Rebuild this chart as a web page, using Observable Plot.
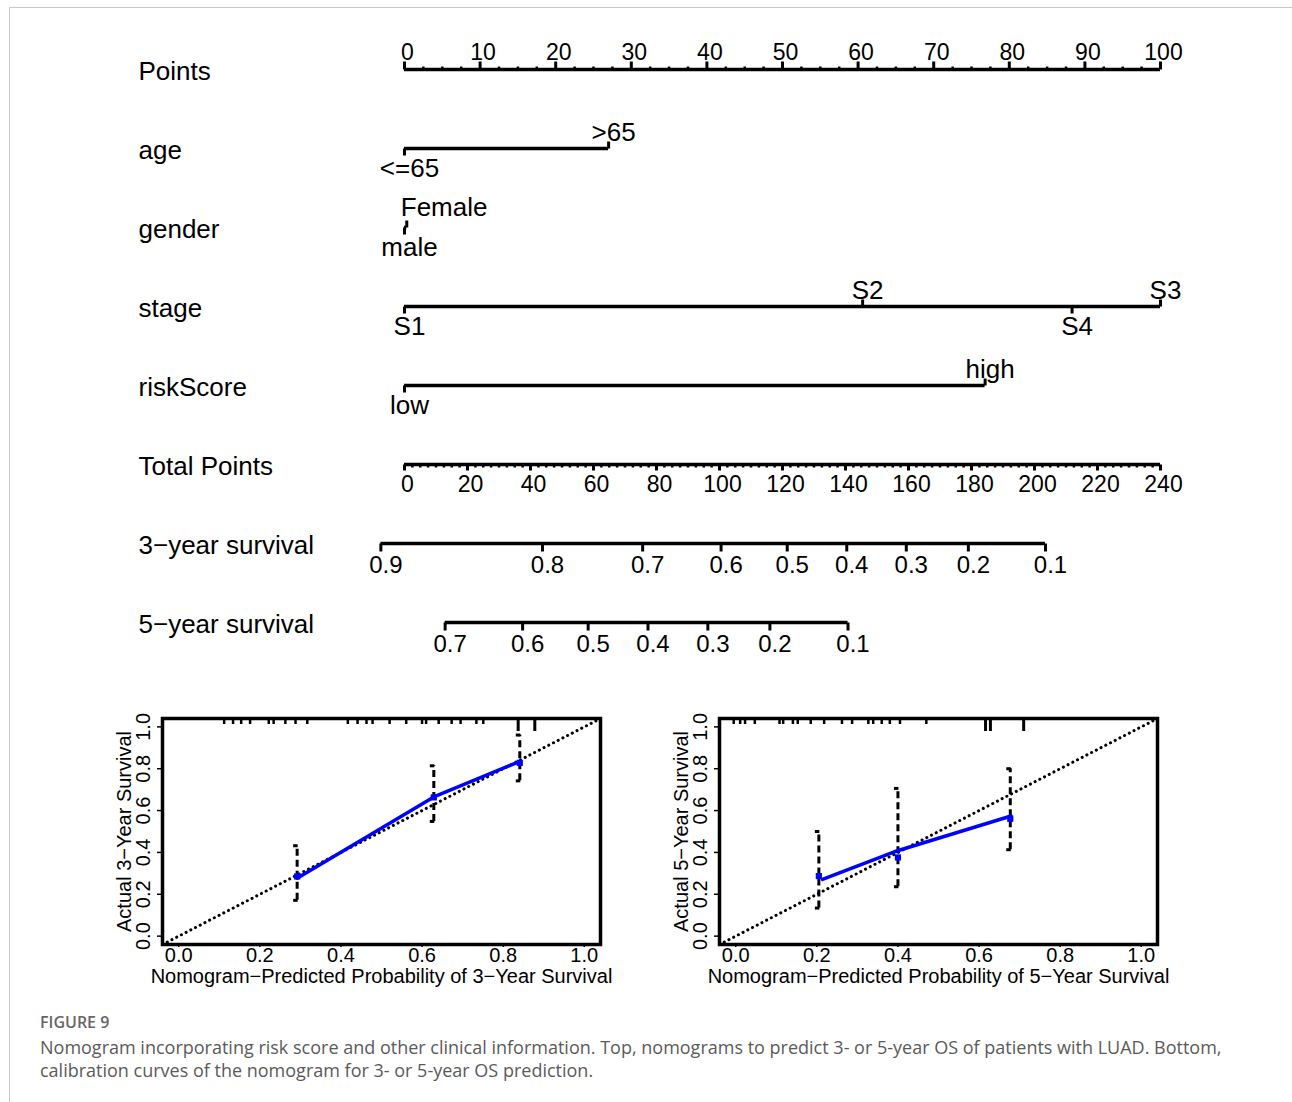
<!DOCTYPE html>
<html>
<head>
<meta charset="utf-8">
<script src="https://cdn.jsdelivr.net/npm/d3@7"></script>
<script src="https://cdn.jsdelivr.net/npm/@observablehq/plot@0.6"></script>
<style>
  html, body { margin: 0; padding: 0; background: #fff; }
  body { width: 1292px; height: 1102px; position: relative; overflow: hidden; font-family: "Liberation Sans", Arial, sans-serif; }
  #border { position: absolute; left: 9px; top: 7px; width: 1320px; height: 1120px; border-left: 1px solid #c9c9c9; border-top: 1px solid #c9c9c9; }
  #nomo { position: absolute; left: 0; top: 0; }
  #cal3 { position: absolute; left: 100px; top: 700px; }
  #cal5 { position: absolute; left: 657px; top: 700px; }
  #fig { position: absolute; left: 40px; top: 1011px; font-family: "Open Sans", sans-serif; font-weight: 600; font-size: 16px; color: #666; }
  #cap { position: absolute; left: 40px; top: 1036px; font-family: "Open Sans", sans-serif; font-size: 18px; line-height: 23px; color: #5a5a5a; white-space: nowrap; }
</style>
</head>
<body>
<div id="border"></div>
<div id="nomo"></div>
<div id="cal3"></div>
<div id="cal5"></div>
<div id="fig">FIGURE 9</div>
<div id="cap">Nomogram incorporating risk score and other clinical information. Top, nomograms to predict 3- or 5-year OS of patients with LUAD. Bottom,<br>calibration curves of the nomogram for 3- or 5-year OS prediction.</div>
<script>
// ---------------- Nomogram data ----------------
const rowNames = ["Points", "age", "gender", "stage", "riskScore", "Total Points", "3\u2212year survival", "5\u2212year survival"];
const pointsTicks = [0, 10, 20, 30, 40, 50, 60, 70, 80, 90, 100];
const ageLevels = ["<=65", ">65"];
const agePoints = [0, 27];
const genderLevels = ["male", "Female"];
const genderPoints = [0, 0.3];
const stageLevels = ["S1", "S2", "S3", "S4"];
const stagePoints = [0, 60.6, 100, 88.3];
const riskLevels = ["low", "high"];
const riskPoints = [0, 76.8];
const totalTicks = [0, 20, 40, 60, 80, 100, 120, 140, 160, 180, 200, 220, 240];
const surv3Labels = ["0.9", "0.8", "0.7", "0.6", "0.5", "0.4", "0.3", "0.2", "0.1"];
const surv3Total = [-7.5, 43.8, 75.6, 100.5, 121.5, 140.4, 159.3, 179.0, 203.5];
const surv5Labels = ["0.7", "0.6", "0.5", "0.4", "0.3", "0.2", "0.1"];
const surv5Total = [12.9, 37.5, 58.3, 77.3, 96.3, 116.0, 140.8];

// ---------------- Calibration data ----------------
const calTicks = [0, 0.2, 0.4, 0.6, 0.8, 1.0];
const pred3 = [0.292, 0.629, 0.841];
const line3 = [0.277, 0.665, 0.835];
const obs3 = [0.285, 0.663, 0.828];
const lo3 = [0.171, 0.548, 0.742];
const hi3 = [0.432, 0.814, 0.961];
const rug3 = [0.112, 0.134, 0.154, 0.176, 0.222, 0.234, 0.263, 0.288, 0.317, 0.417, 0.441, 0.463, 0.478, 0.520, 0.561, 0.600, 0.610, 0.641, 0.673, 0.695, 0.734, 0.751];
const rug3Long = [0.837, 0.878];
const pred5 = [0.205, 0.400, 0.677];
const line5x = [0.214, 0.391, 0.679];
const line5 = [0.271, 0.403, 0.574];
const obs5 = [0.287, 0.376, 0.561];
const lo5 = [0.134, 0.236, 0.413];
const hi5 = [0.500, 0.706, 0.800];
const rug5 = [-0.005, 0.011, 0.023, 0.047, 0.108, 0.117, 0.141, 0.153, 0.185, 0.218, 0.262, 0.287, 0.327, 0.339, 0.360, 0.380, 0.405, 0.470];
const rug5Long = [0.616, 0.628, 0.710];

// ---------------- Helpers ----------------
const TOTAL_MAX = 240;
const toPts = t => t * 100 / TOTAL_MAX;
const tickUp = len => ({draw(ctx) { ctx.moveTo(0, 0); ctx.lineTo(0, -len); }});
const tickDown = len => ({draw(ctx) { ctx.moveTo(0, 0); ctx.lineTo(0, len); }});
const capLeft = len => ({draw(ctx) { ctx.moveTo(0.5, 0); ctx.lineTo(-len, 0); }});

const variables = [
  {row: "age", levels: ageLevels, points: agePoints},
  {row: "gender", levels: genderLevels, points: genderPoints},
  {row: "stage", levels: stageLevels, points: stagePoints},
  {row: "riskScore", levels: riskLevels, points: riskPoints}
];
const levelTable = variables.flatMap(v => {
  const items = v.levels.map((label, i) => ({row: v.row, label, points: v.points[i]}));
  items.sort((a, b) => a.points - b.points);
  return items.map((d, i) => ({...d, side: i % 2 === 0 ? "below" : "above"}));
});
const spans = [
  {row: "Points", x1: pointsTicks[0], x2: pointsTicks[pointsTicks.length - 1]},
  ...variables.map(v => ({row: v.row, x1: d3.min(v.points), x2: d3.max(v.points)})),
  {row: "Total Points", x1: toPts(totalTicks[0]), x2: toPts(totalTicks[totalTicks.length - 1])},
  {row: rowNames[6], x1: toPts(d3.min(surv3Total)), x2: toPts(d3.max(surv3Total))},
  {row: rowNames[7], x1: toPts(d3.min(surv5Total)), x2: toPts(d3.max(surv5Total))}
];
const pointsMinor = d3.range(pointsTicks[0], pointsTicks[pointsTicks.length - 1], 2.5).filter(v => v % 10 !== 0);
const totalMinor = d3.range(totalTicks[0], totalTicks[totalTicks.length - 1], 2.5).filter(v => v % 20 !== 0);
const surv3 = surv3Labels.map((label, i) => ({label, t: surv3Total[i], row: rowNames[6]}));
const surv5 = surv5Labels.map((label, i) => ({label, t: surv5Total[i], row: rowNames[7]}));
const survAll = surv3.concat(surv5);
const above = levelTable.filter(d => d.side === "above");
const below = levelTable.filter(d => d.side === "below");

const nomo = Plot.plot({
  width: 1292, height: 690,
  marginLeft: 138, marginRight: 40, marginTop: 20, marginBottom: 20,
  x: {domain: [0, 100], range: [404, 1160], axis: null},
  y: {type: "point", domain: rowNames, range: [66, 624], padding: 0, axis: null},
  style: {fontFamily: "'Liberation Sans', Arial, sans-serif", fontSize: "23px", color: "black", background: "transparent", overflow: "visible"},
  marks: [
    // row labels
    Plot.text(rowNames, {y: d => d, frameAnchor: "left", textAnchor: "start", fontSize: 26, dy: 2}),
    // scale lines
    Plot.ruleY(spans, {y: "row", x1: "x1", x2: "x2", strokeWidth: 3.6}),
    // Points axis
    Plot.dot(pointsTicks, {x: d => d, y: () => "Points", symbol: tickUp(8), stroke: "black", strokeWidth: 3, fill: "none"}),
    Plot.dot(pointsMinor, {x: d => d, y: () => "Points", symbol: tickUp(3), stroke: "black", strokeWidth: 2.5, fill: "none"}),
    Plot.text(pointsTicks, {x: d => d, y: () => "Points", text: d => String(d), lineAnchor: "bottom", dy: -10, dx: 3, fontSize: 23}),
    // variable levels
    Plot.dot(above, {x: "points", y: "row", symbol: tickUp(7), stroke: "black", strokeWidth: 3, fill: "none"}),
    Plot.dot(below, {x: "points", y: "row", symbol: tickDown(7), stroke: "black", strokeWidth: 3, fill: "none"}),
    Plot.text(above.filter(d => d.label !== "Female"), {x: "points", y: "row", text: "label", lineAnchor: "bottom", dy: -8, dx: 5, fontSize: 26}),
    Plot.text(above.filter(d => d.label === "Female"), {x: "points", y: "row", text: "label", lineAnchor: "bottom", textAnchor: "start", dy: -12, dx: -6, fontSize: 26}),
    Plot.text(below, {x: "points", y: "row", text: "label", lineAnchor: "top", dy: 10, dx: 5, fontSize: 26}),
    // Total points axis
    Plot.dot(totalTicks, {x: d => toPts(d), y: () => "Total Points", symbol: tickDown(6), stroke: "black", strokeWidth: 3, fill: "none"}),
    Plot.dot(totalMinor, {x: d => toPts(d), y: () => "Total Points", symbol: tickDown(3), stroke: "black", strokeWidth: 2.5, fill: "none"}),
    Plot.text(totalTicks, {x: d => toPts(d), y: () => "Total Points", text: d => String(d), lineAnchor: "top", dy: 11, dx: 3, fontSize: 23}),
    // survival axes
    Plot.dot(survAll, {x: d => toPts(d.t), y: "row", symbol: tickDown(8), stroke: "black", strokeWidth: 3, fill: "none"}),
    Plot.text(survAll, {x: d => toPts(d.t), y: "row", text: "label", lineAnchor: "top", dy: 12, dx: 5, fontSize: 24})
  ]
});
document.getElementById("nomo").appendChild(nomo);

// ---------------- Calibration plots ----------------
function calPlot({pred, lineX, lineY, obs, lo, hi, rug, rugLong, xlab, ylab}) {
  const pts = pred.map((x, i) => ({x, y: obs[i], lo: lo[i], hi: hi[i]}));
  const ln = lineX.map((x, i) => ({x, y: lineY[i]}));
  const frameH = 300 - 18 - 56;
  const diag = [-0.04, 1.04];
  return Plot.plot({
    width: 520, height: 300,
    marginLeft: 62, marginRight: 20, marginTop: 18, marginBottom: 56,
    x: {domain: [-0.04, 1.04]},
    y: {domain: [-0.04, 1.04]},
    style: {fontFamily: "'Liberation Sans', Arial, sans-serif", fontSize: "20px", color: "black", background: "transparent", overflow: "visible"},
    marks: [
      Plot.axisX({ticks: calTicks, tickFormat: d3.format(".1f"), tickSize: 3, tickPadding: 0, fontSize: 20, label: null, strokeWidth: 1.5}),
      Plot.axisY({ticks: calTicks, tickFormat: d3.format(".1f"), tickSize: 5, tickPadding: 8, tickRotate: -90, fontSize: 20, label: null, strokeWidth: 1.5}),
      Plot.text([xlab], {frameAnchor: "bottom", lineAnchor: "top", dy: 24, fontSize: 20}),
      Plot.text([ylab], {frameAnchor: "left", textAnchor: "middle", rotate: -90, dx: -38, fontSize: 20}),
      Plot.ruleX(rug, {x: d => d, strokeWidth: 2.5, insetBottom: frameH - 6}),
      Plot.ruleX(rugLong, {x: d => d, strokeWidth: 3, insetBottom: frameH - 13}),
      Plot.line(diag, {x: d => d, y: d => d, stroke: "black", strokeWidth: 3, strokeDasharray: "0.1,5.2", strokeLinecap: "round"}),
      Plot.ruleX(pts, {x: "x", y1: "lo", y2: "hi", strokeWidth: 3, strokeDasharray: "7,4"}),
      Plot.dot(pts, {x: "x", y: "lo", symbol: capLeft(4), stroke: "black", strokeWidth: 3, fill: "none"}),
      Plot.dot(pts, {x: "x", y: "hi", symbol: capLeft(4), stroke: "black", strokeWidth: 3, fill: "none"}),
      Plot.line(ln, {x: "x", y: "y", stroke: "#0000ff", strokeWidth: 3.5}),
      Plot.dot(pts, {x: "x", y: "y", symbol: "square", r: 3.5, fill: "#0000ff", stroke: "none"}),
      Plot.frame({strokeWidth: 3.5})
    ]
  });
}
document.getElementById("cal3").appendChild(calPlot({
  pred: pred3, lineX: pred3, lineY: line3, obs: obs3, lo: lo3, hi: hi3, rug: rug3, rugLong: rug3Long,
  xlab: "Nomogram\u2212Predicted Probability of 3\u2212Year Survival", ylab: "Actual 3\u2212Year Survival"
}));
document.getElementById("cal5").appendChild(calPlot({
  pred: pred5, lineX: line5x, lineY: line5, obs: obs5, lo: lo5, hi: hi5, rug: rug5, rugLong: rug5Long,
  xlab: "Nomogram\u2212Predicted Probability of 5\u2212Year Survival", ylab: "Actual 5\u2212Year Survival"
}));
</script>
</body>
</html>
